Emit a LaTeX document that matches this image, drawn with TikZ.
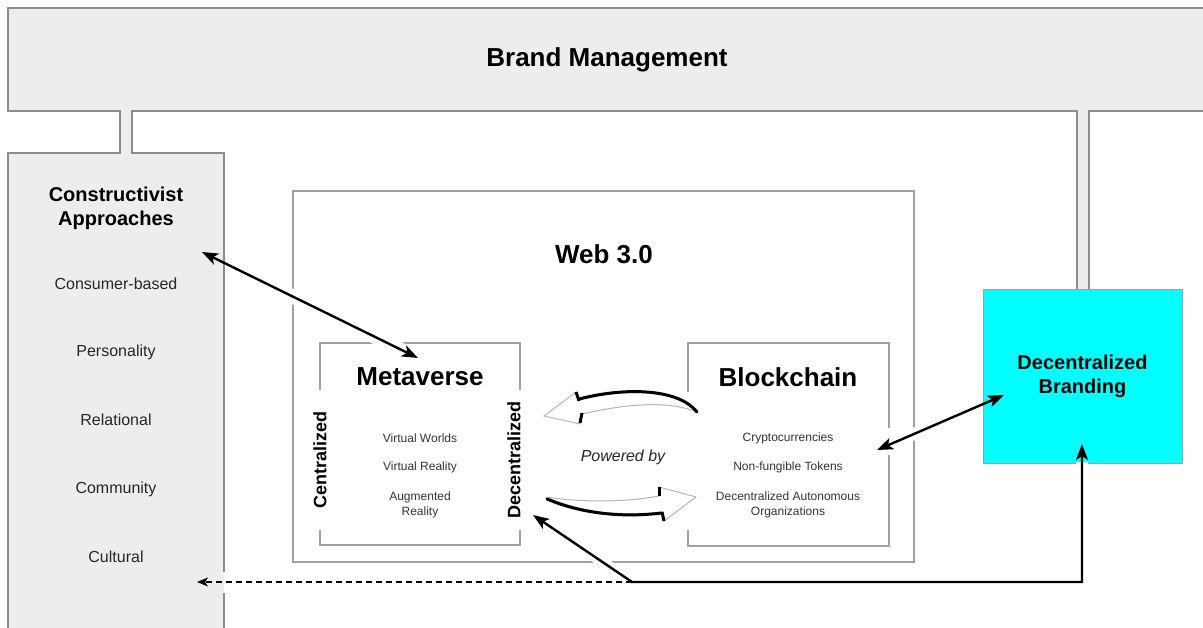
\documentclass[tikz,border=0pt]{standalone}
\usepackage{fontspec}
\setmainfont{Liberation Sans}
\usetikzlibrary{arrows.meta,calc}
\definecolor{framefill}{HTML}{EDEDED}
\definecolor{framedraw}{HTML}{8C8C8C}
\definecolor{boxdraw}{HTML}{A0A0A0}
\definecolor{cyanfill}{HTML}{00FFFF}
\definecolor{arrowgray}{HTML}{B5B5B5}
\tikzset{ptip/.tip={Stealth[length=16pt,width=12pt,inset=4pt]},
         dtip/.tip={Stealth[length=11pt,width=9pt,inset=3pt]}}
\begin{document}
\begin{tikzpicture}[x=1pt,y=-1pt,
  frameline/.style={draw=framedraw, line width=1.6pt},
  thinbox/.style={draw=boxdraw, line width=1.5pt},
  bigtitle/.style={font=\fontsize{26}{30}\selectfont\bfseries, inner sep=0pt},
  midtitle/.style={font=\fontsize{20}{24}\selectfont\bfseries, align=center, inner sep=0pt},
  sidelabel/.style={font=\fontsize{18}{20}\selectfont\bfseries, rotate=90, fill=white, minimum width=140pt, inner xsep=0pt, inner ysep=2pt},
  item/.style={font=\fontsize{16}{19}\selectfont, text=black!85, inner sep=0pt},
  smallitem/.style={font=\fontsize{12}{14.5}\selectfont, text=black!80, align=center, inner sep=0pt},
  conn/.style={line width=2.4pt, draw=black},
  knock/.style={draw=white, line width=14pt},
  blockarrow/.style={fill=white, draw=arrowgray, line width=1pt, line join=round},
  blackedge/.style={draw=black, line width=3pt, line cap=round}
]
\useasboundingbox (0,0) rectangle (1203,628);
\fill[white] (0,0) rectangle (1203,628);

% gray frame: Brand Management bar, stems, left column
\fill[framefill] (1203,8) -- (8,8) -- (8,111) -- (120,111) -- (120,153) -- (8,153) -- (8,628)
  -- (224,628) -- (224,153) -- (132,153) -- (132,111) -- (1077,111) -- (1077,290)
  -- (1089,290) -- (1089,111) -- (1203,111) -- cycle;
\draw[frameline] (1203,8) -- (8,8) -- (8,111) -- (120,111) -- (120,153) -- (8,153) -- (8,628);
\draw[frameline] (224,628) -- (224,593);
\draw[frameline] (224,572) -- (224,153) -- (132,153) -- (132,111) -- (1077,111) -- (1077,290);
\draw[frameline] (1089,290) -- (1089,111) -- (1203,111);

% boxes
\node[thinbox, minimum width=621pt, minimum height=371pt, inner sep=0pt] (web) at (603.5,376.5) {};
\node[thinbox, minimum width=200pt, minimum height=202pt, inner sep=0pt] (meta) at (420,444) {};
\node[minimum width=201pt, minimum height=203pt, inner sep=0pt] (bc) at (788.5,444.5) {};
\draw[thinbox] (688,392) -- (688,343) -- (889,343) -- (889,428);
\draw[thinbox] (889,455) -- (889,546) -- (688,546) -- (688,530);

\node[draw=boxdraw, line width=1pt, fill=cyanfill, minimum width=199pt, minimum height=173pt, midtitle] (db) at (1082.5,376.5) {Decentralized\\Branding};

% curved block arrows (Powered by)
\path[blockarrow] (544,416) -- (576,392) -- (579,400) .. controls (630,387) and (680,391) .. (697,412)
  .. controls (670,401) and (630,403) .. (582,414) -- (580,424) -- cycle;
\draw[blackedge] (579,399) .. controls (630,386) and (680,390) .. (697,412);
\draw[blackedge, line cap=butt] (576,392) -- (579,401);
\draw[blackedge, line cap=butt] (582,413) -- (580,423);

\path[blockarrow] (696,497) -- (659,487) -- (659,496) .. controls (620,503) and (580,502) .. (546,497)
  .. controls (580,512) and (620,517) .. (662,512) -- (664,521) -- cycle;
\draw[blackedge] (547,499) .. controls (580,513) and (620,518) .. (662,513);
\draw[blackedge, line cap=butt] (659,487) -- (659,496);
\draw[blackedge, line cap=butt] (662,512) -- (664,521);

% connector end points
\coordinate (a1s) at (202,252);
\coordinate (a1e) at (418,358);
\coordinate (a2s) at (877,450);
\coordinate (a2e) at (1004,395);
\coordinate (a3s) at (533,515);
\coordinate (a3k) at (632,582);
\coordinate (a3c) at (1082,582);
\coordinate (a3e) at (1082,444);
\coordinate (a4e) at (197,582);

% knock-outs where connectors cross lines
\path[knock] ($(a1s)!0.17!(a1e)$) -- ($(a1s)!0.95!(a1e)$);
\path[knock, line width=12pt] ($(a2s)!0.05!(a2e)$) -- ($(a2s)!0.55!(a2e)$);
\path[knock, line width=11pt] ($(a3s)!0.45!(a3k)$) -- ($(a3s)!0.9!(a3k)$);
\path[knock, line width=12pt] (1082,462.4) -- (1082,478);

% connectors
\draw[conn, arrows={ptip-ptip}] (a1s) -- (a1e);
\draw[conn, arrows={ptip-ptip}] (a2s) -- (a2e);
\draw[conn, arrows={ptip-ptip}] (a3s) -- (a3k) -- (a3c) -- (a3e);
\draw[line width=1.6pt, dash pattern=on 6pt off 4pt, arrows={-dtip}] (a3k) -- (a4e);

% texts
\node[bigtitle] (bm) at (607,60) {Brand Management};
\node[midtitle] (ca) at (116,208) {Constructivist\\Approaches};
\node[item] (i1) at (116,284) {Consumer-based};
\node[item] (i2) at (116,352) {Personality};
\node[item] (i3) at (116,420) {Relational};
\node[item] (i4) at (116,489) {Community};
\node[item] (i5) at (116,557) {Cultural};

\node[bigtitle] (webt) at (604,254) {Web 3.0};
\node[bigtitle] (metat) at (420,377) {Metaverse};
\node[bigtitle] (bct) at (788,377) {Blockchain};

\node[sidelabel] (cent) at (320,460) {Centralized};
\node[sidelabel] (dec) at (514,460) {Decentralized};

\node[smallitem] (m1) at (420,438) {Virtual Worlds};
\node[smallitem] (m2) at (420,467) {Virtual Reality};
\node[smallitem] (m3) at (420,505) {Augmented\\Reality};

\node[smallitem] (b1) at (788,438) {Cryptocurrencies};
\node[smallitem] (b2) at (788,467) {Non-fungible Tokens};
\node[smallitem] (b3) at (788,505) {Decentralized Autonomous\\Organizations};

\node[font=\fontsize{16}{19}\selectfont\itshape, text=black!85, inner sep=0pt] (pb) at (623,457) {Powered by};
\end{tikzpicture}
\end{document}
